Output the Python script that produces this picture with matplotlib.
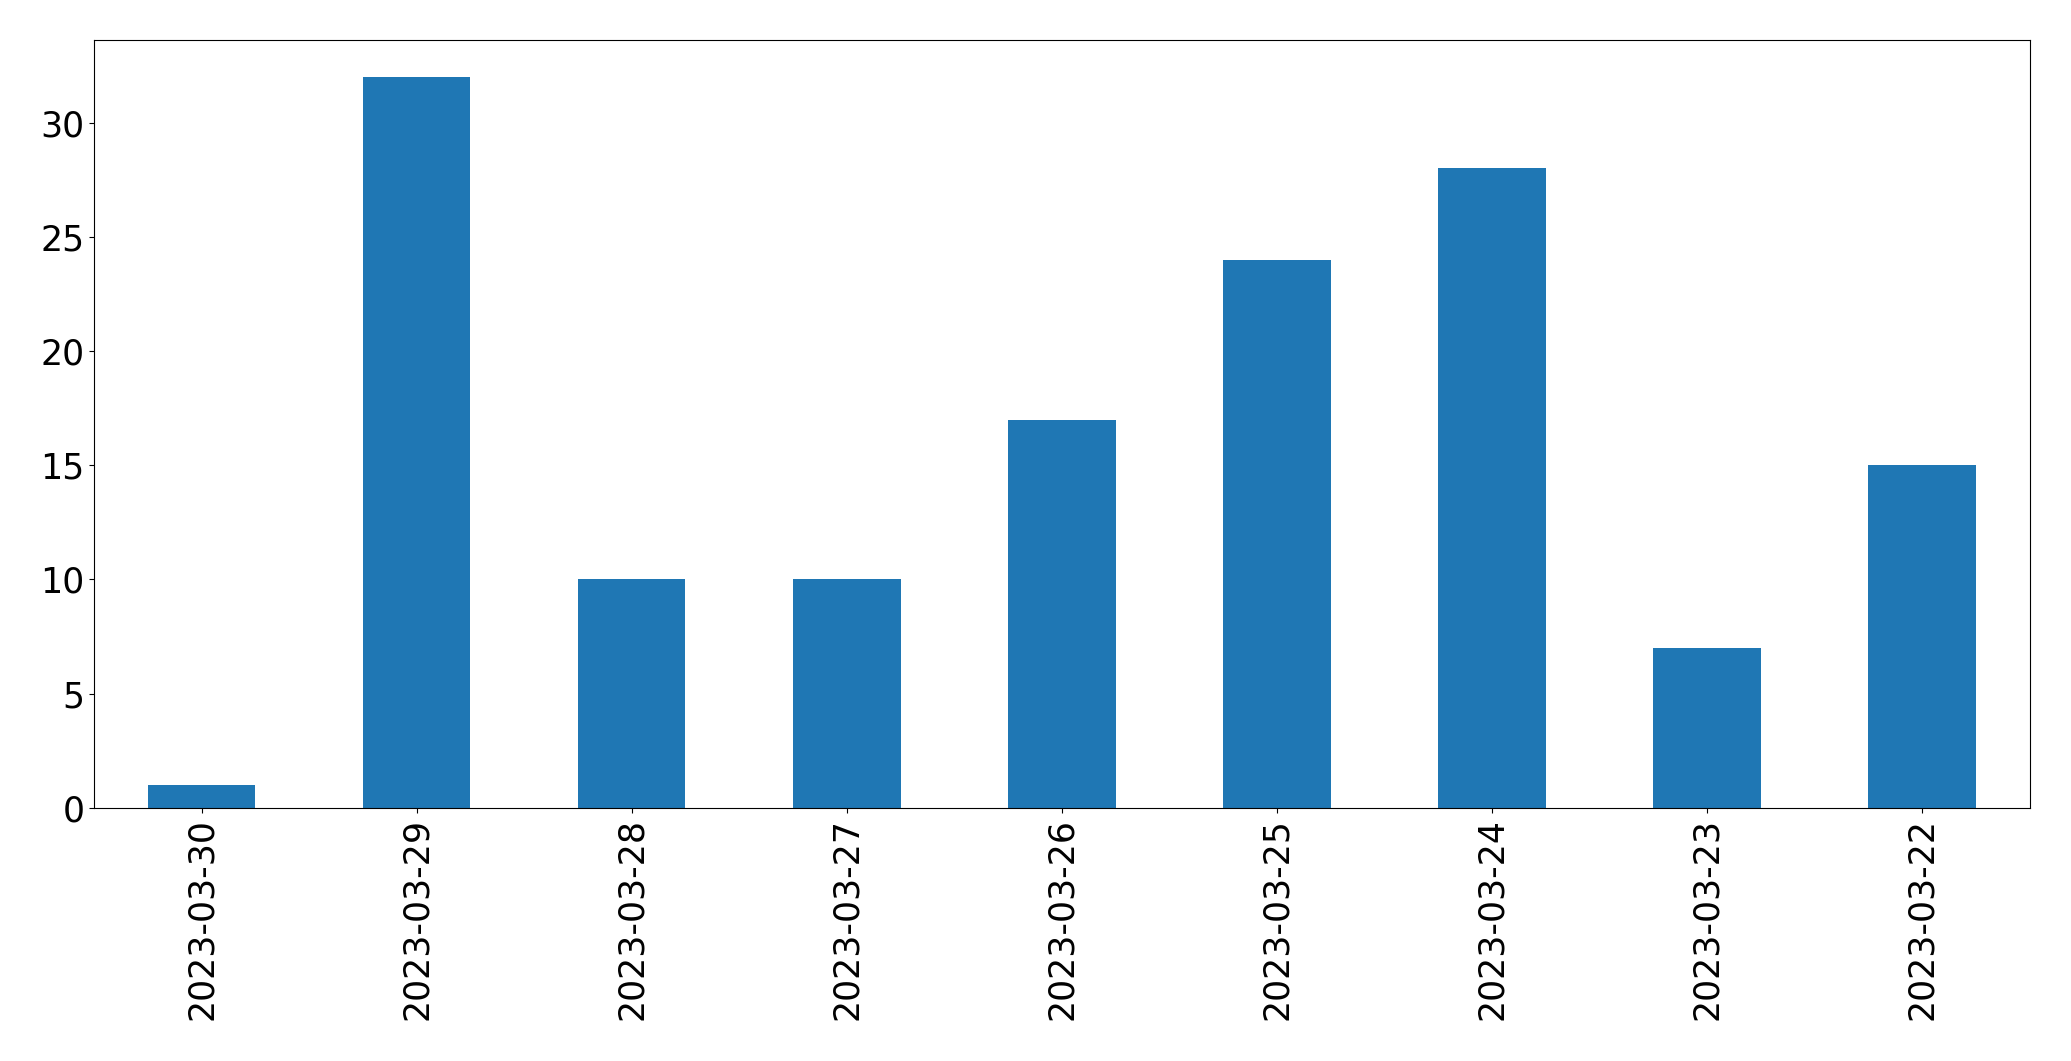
import matplotlib
matplotlib.use("Agg")
import matplotlib.pyplot as plt
import pandas as pd

dates = ["2023-03-30", "2023-03-29", "2023-03-28", "2023-03-27", "2023-03-26",
         "2023-03-25", "2023-03-24", "2023-03-23", "2023-03-22"]
counts = [1, 32, 10, 10, 17, 24, 28, 7, 15]

s = pd.Series(counts, index=dates)

fig = plt.figure(figsize=(20.71, 10.61), dpi=100)
ax = fig.add_axes([0.0454, 0.2385, 0.9346, 0.7235])
s.plot(kind="bar", ax=ax, color="#1f77b4", fontsize=25)
ax.tick_params(axis="both", labelsize=25)

fig.savefig("out.png", dpi=100)
